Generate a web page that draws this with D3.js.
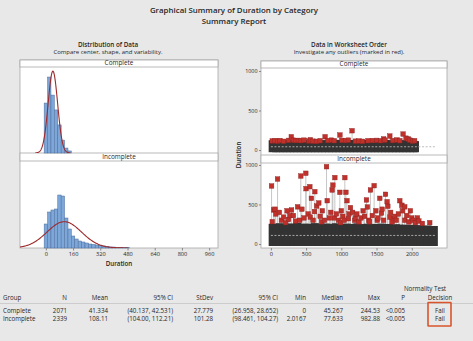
<!DOCTYPE html>
<html>
<head>
<meta charset="utf-8">
<script src="https://cdn.jsdelivr.net/npm/d3@7"></script>
<style>
  body { margin: 0; background: #e8e8e8; }
  svg { display: block; font-family: 'Open Sans', sans-serif; }
</style>
</head>
<body>
<svg width="473" height="341"></svg>
<script>
// Graphical summary of Duration by Category (Complete / Incomplete)

const groups = ['Complete', 'Incomplete'];
const sampleSizes = [2071, 2339];
const means = [41.334, 108.11];
const stdevs = [27.779, 101.28];

// histogram: bins of width 20 starting at -10
const binStart = -10;
const binWidth = 20;
const completeCounts = [363, 552, 421, 313, 204, 94, 36, 15];
const incompleteCounts = [168, 252, 266, 273, 371, 364, 210, 133, 84, 63, 49, 42, 35, 28, 25, 21, 18, 14, 10, 7, 7, 4, 3, 2, 2];
const histTicks = [0, 160, 320, 480, 640, 800, 960];

// worksheet order: envelope of the dense points, every 50 rows
const bandStep = 50;
const completeBandTop = [96, 100, 92, 98, 101, 95, 99, 94, 100, 97, 93, 99, 102, 96, 98, 92, 100, 97, 95, 101,
  98, 94, 99, 96, 100, 93, 97, 101, 95, 98, 99, 94, 100, 96, 92, 98, 97, 95, 93, 90, 88, 85];
const incompleteBandTop = [228, 220, 235, 226, 218, 232, 224, 238, 222, 230, 215, 228, 236, 220, 226, 231, 219, 228,
  234, 221, 225, 230, 218, 226, 233, 220, 224, 229, 217, 226, 222, 230, 219, 225, 214, 222, 218, 210, 216, 208,
  212, 205, 210, 202, 206, 198, 200];
const completeOutliers = [[20, 115], [60, 118], [95, 112], [130, 120], [180, 110], [250, 122], [290, 168], [320, 125],
  [350, 120], [390, 122], [430, 118], [470, 125], [540, 115], [560, 130], [600, 112], [650, 110], [700, 118],
  [770, 168], [810, 120], [860, 125], [900, 118], [980, 190], [1010, 122], [1060, 120], [1100, 125], [1153, 244],
  [1200, 112], [1250, 115], [1300, 110], [1380, 118], [1440, 120], [1500, 122], [1560, 118], [1600, 140],
  [1620, 125], [1688, 177], [1730, 120], [1790, 128], [1830, 118], [1877, 202], [1920, 150], [1950, 140],
  [1972, 125], [2010, 112], [2040, 118]];
const incompleteOutliers = [[10, 734], [20, 282], [40, 430], [60, 440], [70, 380], [95, 822], [120, 400], [150, 300],
  [180, 340], [210, 270], [230, 420], [250, 310], [270, 360], [293, 430], [320, 360], [350, 290], [380, 470],
  [410, 300], [425, 860], [440, 440], [470, 330], [496, 895], [500, 700], [530, 380], [553, 725], [560, 340],
  [575, 578], [600, 300], [620, 410], [624, 662], [650, 480], [680, 519], [700, 350], [720, 280], [730, 420],
  [760, 300], [790, 978], [800, 548], [830, 330], [850, 400], [870, 683], [880, 745], [900, 330], [908, 840],
  [930, 380], [960, 300], [979, 654], [990, 270], [1000, 420], [1020, 350], [1040, 300], [1050, 840], [1065, 654],
  [1080, 548], [1100, 320], [1110, 380], [1130, 460], [1160, 400], [1190, 300], [1200, 330], [1220, 380],
  [1250, 280], [1280, 330], [1310, 420], [1330, 350], [1357, 557], [1370, 468], [1390, 300], [1400, 280],
  [1414, 683], [1440, 360], [1466, 738], [1490, 420], [1510, 300], [1520, 330], [1546, 578], [1570, 390],
  [1580, 440], [1600, 300], [1627, 629], [1650, 535], [1660, 477], [1690, 340], [1700, 400], [1720, 280],
  [1750, 320], [1760, 350], [1780, 300], [1810, 380], [1830, 548], [1860, 490], [1870, 420], [1900, 300],
  [1900, 470], [1930, 360], [1960, 280], [1980, 420], [2000, 330], [2020, 300], [2050, 270], [2080, 330],
  [2100, 290], [2150, 260], [2255, 270]];
const orderTicks = [0, 500, 1000, 1500, 2000];
const durationTicks = [0, 500, 1000];

// summary table
const tableHeader = ['Group', 'N', 'Mean', '95% CI', 'StDev', '95% CI', 'Min', 'Median', 'Max', 'P', 'Decision'];
const completeRow = ['Complete', '2071', '41.334', '(40.137, 42.531)', '27.779', '(26.958, 28.652)', '0', '45.267', '244.53', '<0.005', 'Fail'];
const incompleteRow = ['Incomplete', '2339', '108.11', '(104.00, 112.21)', '101.28', '(98.461, 104.27)', '2.0167', '77.633', '982.88', '<0.005', 'Fail'];

const svg = d3.select('svg');
const dark = '#262626';

// titles
const title = svg.append('g').attr('text-anchor', 'middle').attr('fill', dark);
title.append('text').attr('x', 234).attr('y', 13).attr('font-size', 7.9).attr('font-weight', 600)
  .text('Graphical Summary of Duration by Category');
title.append('text').attr('x', 234).attr('y', 23.5).attr('font-size', 7.9).attr('font-weight', 600)
  .text('Summary Report');
title.append('text').attr('x', 108).attr('y', 46.5).attr('font-size', 6.3).attr('font-weight', 600)
  .text('Distribution of Data');
title.append('text').attr('x', 108).attr('y', 54).attr('font-size', 6).text('Compare center, shape, and variability.');
title.append('text').attr('x', 349).attr('y', 46.5).attr('font-size', 6.3).attr('font-weight', 600)
  .text('Data in Worksheet Order');
title.append('text').attr('x', 349).attr('y', 54).attr('font-size', 6).text('Investigate any outliers (marked in red).');

// panel frames: [strip top, plot top, plot bottom] per group
function drawFrame(x0, x1, rows) {
  svg.append('rect').attr('x', x0).attr('y', rows[0][0]).attr('width', x1 - x0)
    .attr('height', rows[1][2] - rows[0][0]).attr('fill', '#fff').attr('stroke', '#a9a9a9').attr('stroke-width', 0.8);
  rows.forEach((r, i) => {
    svg.append('rect').attr('x', x0).attr('y', r[0]).attr('width', x1 - x0).attr('height', r[1] - r[0])
      .attr('fill', '#fff').attr('stroke', '#a9a9a9').attr('stroke-width', 0.8);
    svg.append('text').attr('x', (x0 + x1) / 2).attr('y', r[1] - 1.6).attr('text-anchor', 'middle')
      .attr('font-size', 6.4).attr('fill', dark).text(groups[i]);
  });
}

// ---------- left: histograms ----------
const histRows = [[60, 67, 153], [153, 161, 248]];
drawFrame(20, 218, histRows);

const xHist = d3.scaleLinear().domain([-152, 1012]).range([20, 218]);
const histCounts = [completeCounts, incompleteCounts];
const histYMax = [625, 609];

histRows.forEach((r, i) => {
  const y = d3.scaleLinear().domain([0, histYMax[i]]).range([r[2], r[1]]);
  const g = svg.append('g');
  const clipId = 'hclip' + i;
  svg.append('clipPath').attr('id', clipId).append('rect')
    .attr('x', 20).attr('y', r[1]).attr('width', 198).attr('height', r[2] - r[1]);

  g.selectAll('rect').data(histCounts[i]).enter().append('rect')
    .attr('x', (d, j) => xHist(binStart + j * binWidth))
    .attr('width', xHist(binWidth) - xHist(0))
    .attr('y', (d) => y(d))
    .attr('height', (d) => r[2] - y(d))
    .attr('fill', '#7da7d9').attr('stroke', '#4d6d9c').attr('stroke-width', 0.5);

  // fitted normal curve
  const lo = means[i] - 3.7 * stdevs[i];
  const hi = means[i] + 3.7 * stdevs[i];
  const pts = d3.range(0, 201).map((k) => {
    const v = lo + (hi - lo) * k / 200;
    const z = (v - means[i]) / stdevs[i];
    const dens = sampleSizes[i] * binWidth / (stdevs[i] * Math.sqrt(2 * Math.PI)) * Math.exp(-z * z / 2);
    return [xHist(v), y(dens)];
  });
  svg.append('path').attr('d', d3.line()(pts)).attr('fill', 'none')
    .attr('stroke', '#9e2a2b').attr('stroke-width', 1.1).attr('clip-path', `url(#${clipId})`);
});

const histAxis = svg.append('g').attr('transform', 'translate(0,248)')
  .call(d3.axisBottom(xHist).tickValues(histTicks).tickSize(2.5).tickPadding(1.5));
histAxis.select('.domain').remove();
histAxis.selectAll('line').attr('stroke', '#888');
histAxis.selectAll('text').attr('font-size', 5.6).attr('fill', dark).attr('font-family', 'Open Sans, sans-serif');
svg.append('text').attr('x', 119).attr('y', 265.5).attr('text-anchor', 'middle').attr('font-size', 6.2)
  .attr('font-weight', 600).attr('fill', dark).text('Duration');

// ---------- right: data in worksheet order ----------
const orderRows = [[61, 68, 155], [155, 163, 248]];
drawFrame(261, 447, orderRows);

const xOrder = d3.scaleLinear().domain([-140, 2500]).range([261, 447]);
const orderDomains = [[-63, 1038], [-51, 1025]];
const bandTops = [completeBandTop, incompleteBandTop];
const bandLows = [0, 2.0167];
const outliers = [completeOutliers, incompleteOutliers];

orderRows.forEach((r, i) => {
  const y = d3.scaleLinear().domain(orderDomains[i]).range([r[2], r[1]]);
  const g = svg.append('g');
  const topAt = (idx) => bandTops[i][Math.min(bandTops[i].length - 1, Math.floor(idx / bandStep))];

  // connect lines up to the outliers
  g.selectAll('line.conn').data(outliers[i]).enter().append('line')
    .attr('x1', (d) => xOrder(d[0])).attr('x2', (d) => xOrder(d[0]))
    .attr('y1', (d) => y(topAt(d[0]))).attr('y2', (d) => y(d[1]))
    .attr('stroke', '#b8b8b8').attr('stroke-width', 0.8);

  // dense dark points
  g.selectAll('rect.band').data(bandTops[i]).enter().append('rect')
    .attr('x', (d, j) => xOrder(j * bandStep) - 2.2)
    .attr('width', (d, j) => xOrder(Math.min(sampleSizes[i], (j + 1) * bandStep)) - xOrder(j * bandStep) + 4.4)
    .attr('y', (d) => y(d) - 2.2)
    .attr('height', (d) => y(bandLows[i]) - y(d) + 4.4)
    .attr('fill', '#333');

  // mean reference line
  g.append('line').attr('x1', xOrder(0)).attr('x2', xOrder(2339))
    .attr('y1', y(means[i])).attr('y2', y(means[i]))
    .attr('stroke', '#b5b5b5').attr('stroke-width', 0.9).attr('stroke-dasharray', '2,1.6');

  // outliers in red
  g.selectAll('rect.out').data(outliers[i]).enter().append('rect')
    .attr('x', (d) => xOrder(d[0]) - 2.3).attr('y', (d) => y(d[1]) - 2.3)
    .attr('width', 4.6).attr('height', 4.6)
    .attr('fill', '#c0312c').attr('stroke', '#8c2420').attr('stroke-width', 0.4);

  const yAxis = svg.append('g').attr('transform', 'translate(261,0)')
    .call(d3.axisLeft(y).tickValues(durationTicks).tickFormat(d3.format('d')).tickSize(2).tickPadding(1.5));
  yAxis.select('.domain').remove();
  yAxis.selectAll('line').attr('stroke', '#888');
  yAxis.selectAll('text').attr('font-size', 5.4).attr('fill', dark).attr('font-family', 'Open Sans, sans-serif');
});

const orderAxis = svg.append('g').attr('transform', 'translate(0,248)')
  .call(d3.axisBottom(xOrder).tickValues(orderTicks).tickFormat(d3.format('d')).tickSize(2.5).tickPadding(1.5));
orderAxis.select('.domain').remove();
orderAxis.selectAll('line').attr('stroke', '#888');
orderAxis.selectAll('text').attr('font-size', 5.6).attr('fill', dark).attr('font-family', 'Open Sans, sans-serif');
svg.append('text').attr('transform', 'translate(241,155) rotate(-90)').attr('text-anchor', 'middle')
  .attr('font-size', 6.2).attr('font-weight', 600).attr('fill', dark).text('Duration');

// ---------- summary table ----------
const colX = [3, 67, 108, 173, 213, 278, 306, 343, 380, 405, 440];
const colAnchor = ['start', 'end', 'end', 'end', 'end', 'end', 'end', 'end', 'end', 'end', 'middle'];
const table = svg.append('g').attr('font-size', 6.2).attr('fill', dark);

table.append('text').attr('x', 425).attr('y', 290.5).attr('text-anchor', 'middle').text('Normality Test');
[tableHeader, completeRow, incompleteRow].forEach((row, r) => {
  table.selectAll(null).data(row).enter().append('text')
    .attr('x', (d, c) => colX[c])
    .attr('y', [299.5, 312.5, 321][r])
    .attr('text-anchor', (d, c) => colAnchor[c])
    .text((d) => d);
});
svg.append('line').attr('x1', 0).attr('x2', 473).attr('y1', 303.5).attr('y2', 303.5)
  .attr('stroke', '#c4c4c4').attr('stroke-width', 0.8);
svg.append('rect').attr('x', 428).attr('y', 302.5).attr('width', 23).attr('height', 23.5).attr('rx', 0.5)
  .attr('fill', 'none').attr('stroke', '#d9542c').attr('stroke-width', 1.6);
</script>
</body>
</html>
